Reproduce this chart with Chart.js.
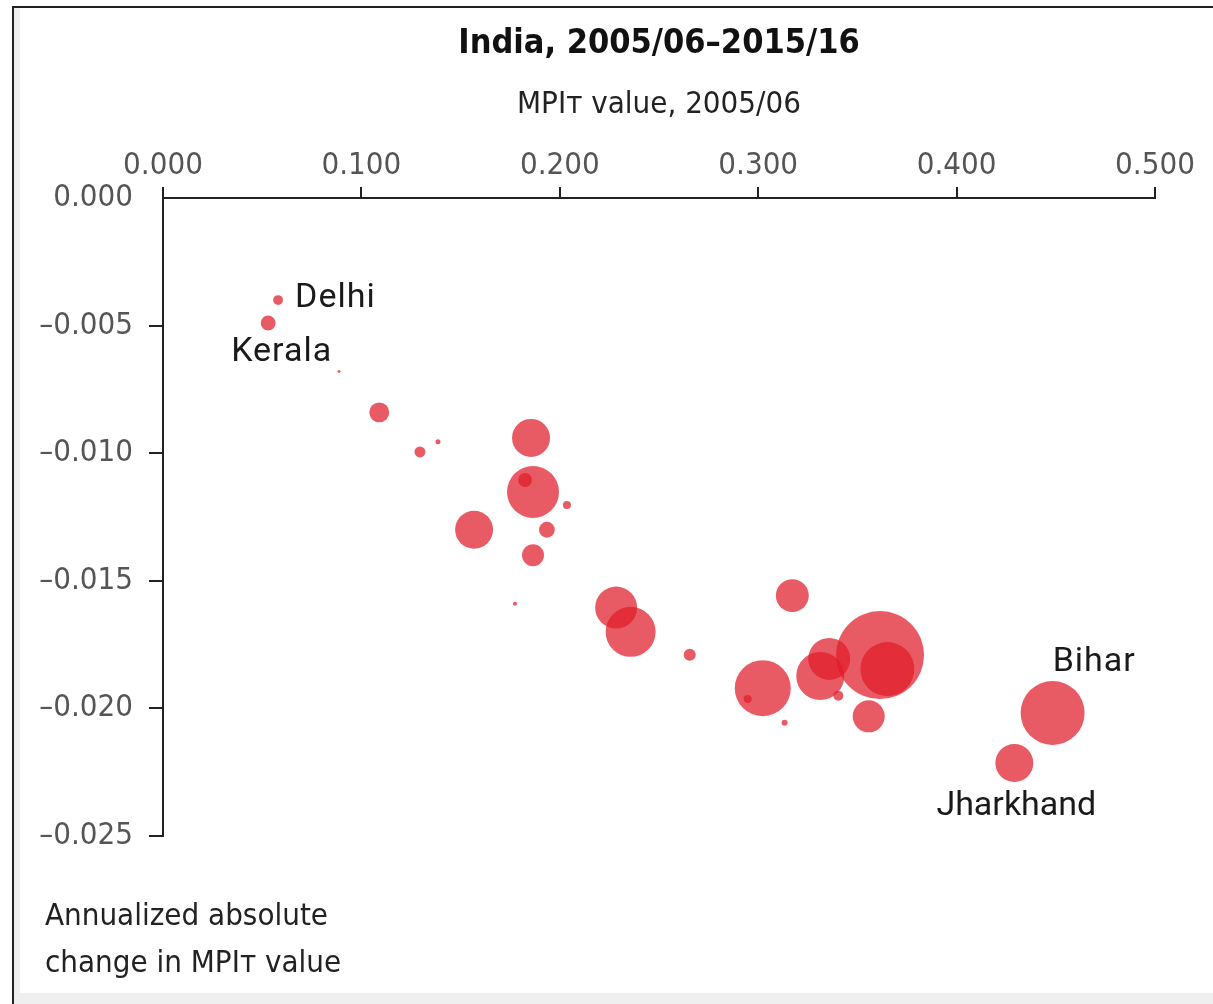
<!DOCTYPE html>
<html>
<head>
<meta charset="utf-8">
<script src="https://cdn.jsdelivr.net/npm/chart.js@4.4.0/dist/chart.umd.min.js"></script>
<style>
  html, body { margin: 0; padding: 0; background: #fff; overflow: hidden; }
  #frame { position: absolute; left: 12px; top: 6px; width: 1199px; height: 996px; border-top: 2px solid #222; border-left: 2px solid #222; background: #efefef; }
  #paper { position: absolute; left: 20px; top: 8px; width: 1193px; height: 985px; background: #fff; }
  #myChart { position: absolute; left: 0; top: 0; }
</style>
</head>
<body>
<div id="frame"></div>
<div id="paper"></div>
<canvas id="myChart" width="1213" height="1004"></canvas>
<script>
// tick labels
const xTicks = [0, 0.1, 0.2, 0.3, 0.4, 0.5];
const yTicks = [0, -0.005, -0.010, -0.015, -0.020, -0.025];

// MPIT value 2005/06, annualized absolute change, size of bubble (number of poor, rough)
const mpi2005 = [0.058, 0.053, 0.0887, 0.109, 0.1295, 0.1386, 0.1855, 0.1865, 0.1825, 0.2036,
  0.1935, 0.1568, 0.1865, 0.1774, 0.2284, 0.2357, 0.2655, 0.3172, 0.3023, 0.2947,
  0.3133, 0.3313, 0.3358, 0.3404, 0.3614, 0.3651, 0.3557, 0.4484, 0.4291];
const annualChange = [-0.0040, -0.0049, -0.0068, -0.0084, -0.00995, -0.00955, -0.0094, -0.01152, -0.01105, -0.01203,
  -0.0130, -0.0130, -0.0140, -0.0159, -0.01605, -0.0170, -0.0179, -0.01558, -0.01921, -0.01963,
  -0.02056, -0.01873, -0.01806, -0.0195, -0.01791, -0.01846, -0.02031, -0.02018, -0.02214];
const poorSize = [1.0, 2.3, 0.09, 4.1, 1.25, 0.26, 14.9, 27.9, 2.0, 0.66,
  2.6, 14.9, 5.0, 0.17, 18.2, 25.8, 1.5, 11.2, 32.4, 0.66,
  0.37, 23.8, 18.2, 1.03, 80, 30.1, 10.6, 42.3, 14.9];

const calloutIdx = [0, 1, 27, 28];
const calloutName = ['Delhi', 'Kerala', 'Bihar', 'Jharkhand'];

const NARROW = "'Liberation Sans Narrow', 'DejaVu Sans Condensed', 'Roboto Condensed', 'Liberation Sans', sans-serif";

// where each callout sits relative to its bubble
const calloutPlace = [
  { align: 'left', dx: 17, dy: -2 },
  { align: 'left', dx: -37, dy: 29 },
  { align: 'left', dx: 0, dy: -50 },
  { align: 'center', dx: 2, dy: 43 }
];

const points = mpi2005.map(function (v, i) {
  return { x: v, y: annualChange[i], r: 4.92 * Math.sqrt(poorSize[i]) };
});

function fmt(v) {
  return (v < 0 ? '\u2013' : '') + Math.abs(v).toFixed(3);
}

const annotate = {
  id: 'annotate',
  afterDatasetsDraw(chart) {
    const ctx = chart.ctx;
    const x = chart.scales.x;
    const y = chart.scales.y;
    ctx.save();
    ctx.font = '34px Roboto';
    ctx.fillStyle = '#1a1a1a';
    ctx.textBaseline = 'middle';
    calloutIdx.forEach(function (idx, k) {
      const p = calloutPlace[k];
      ctx.letterSpacing = calloutName[k].length > 6 ? '0px' : '1px';
      ctx.textAlign = p.align;
      ctx.fillText(calloutName[k], x.getPixelForValue(mpi2005[idx]) + p.dx, y.getPixelForValue(annualChange[idx]) + p.dy);
    });
    ctx.letterSpacing = '0px';
    ctx.font = '31px ' + NARROW;
    ctx.fillStyle = '#222';
    ctx.textAlign = 'left';
    ctx.textBaseline = 'alphabetic';
    const b = chart.chartArea.bottom;
    ctx.fillText('Annualized absolute', 45, b + 89);
    ctx.fillText('change in MPI\u1D1B value', 45, b + 136);
    ctx.restore();
  }
};

const ctx = document.getElementById('myChart');
new Chart(ctx, {
  type: 'bubble',
  data: {
    datasets: [{
      data: points,
      backgroundColor: 'rgba(224, 28, 40, 0.72)',
      borderWidth: 0,
      hoverBorderWidth: 0
    }]
  },
  options: {
    responsive: false,
    animation: false,
    layout: { padding: { left: 0, right: 58, top: 0, bottom: 168 } },
    plugins: {
      legend: { display: false },
      tooltip: { enabled: false },
      title: {
        display: true,
        fullSize: false,
        text: 'India, 2005/06\u20132015/16',
        color: '#111',
        font: { family: NARROW, size: 34, weight: 'bold', lineHeight: 1 },
        padding: { top: 27, bottom: 0 }
      }
    },
    scales: {
      x: {
        type: 'linear',
        position: 'top',
        min: 0,
        max: 0.5,
        afterBuildTicks: function (s) { s.ticks = xTicks.map(v => ({ value: v })); },
        afterFit: function (s) { s.height = 137; },
        ticks: {
          callback: fmt,
          color: '#555',
          padding: 6,
          maxRotation: 0,
          font: { family: NARROW, size: 31, lineHeight: 1 }
        },
        grid: { drawOnChartArea: false, drawTicks: true, tickLength: 11, lineWidth: 2, color: '#222' },
        border: { display: true, color: '#222', width: 2 },
        title: {
          display: true,
          text: 'MPI\u1D1B value, 2005/06',
          color: '#222',
          padding: { top: 28, bottom: 0 },
          font: { family: NARROW, size: 31, lineHeight: 1 }
        }
      },
      y: {
        type: 'linear',
        min: -0.025,
        max: 0,
        afterBuildTicks: function (s) { s.ticks = yTicks.map(v => ({ value: v })); },
        afterFit: function (s) { s.width = 163; },
        ticks: {
          callback: fmt,
          color: '#555',
          padding: 16,
          font: { family: NARROW, size: 31, lineHeight: 1 }
        },
        grid: {
          drawOnChartArea: false,
          drawTicks: true,
          tickLength: 14,
          lineWidth: 2,
          color: function (c) { return c.tick && c.tick.value === 0 ? 'rgba(0,0,0,0)' : '#222'; }
        },
        border: { display: true, color: '#222', width: 2 }
      }
    }
  },
  plugins: [annotate]
});
</script>
</body>
</html>
